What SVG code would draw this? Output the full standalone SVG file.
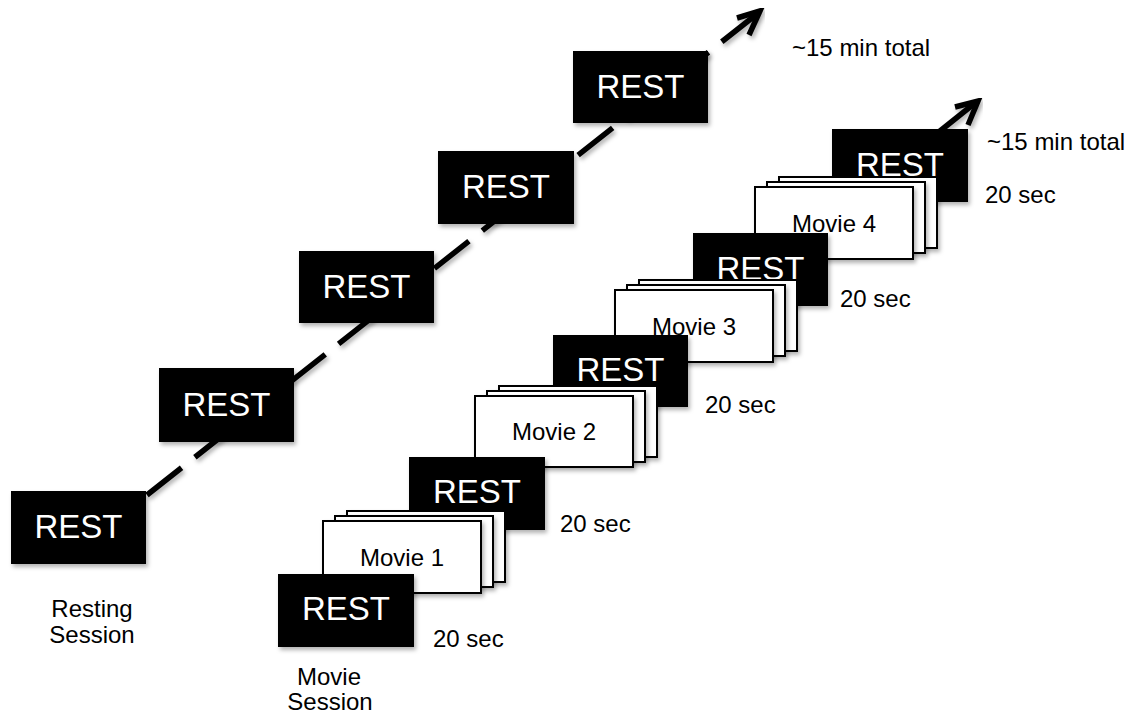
<svg xmlns="http://www.w3.org/2000/svg" width="1133" height="717" viewBox="0 0 1133 717">
<style>
text{font-family:"Liberation Sans",Arial,Helvetica,sans-serif}
.rest{fill:#000;filter:url(#sh)}
.rt{fill:#fff;font-size:33px;text-anchor:middle}
.card{fill:#fff;stroke:#000;stroke-width:2;filter:url(#sh)}
.mt{fill:#000;font-size:24px;text-anchor:middle}
.lbl{fill:#000;font-size:24px}
.lblc{fill:#000;font-size:24px;text-anchor:middle}
.conn{fill:none;stroke:#000;stroke-width:5.5;filter:url(#sh)}
</style>
<defs>
<filter id="sh" x="-10%" y="-10%" width="130%" height="140%">
<feDropShadow dx="2" dy="3" stdDeviation="2" flood-color="#000" flood-opacity="0.3"/>
</filter>
</defs>
<rect width="1133" height="717" fill="#fff"/>
<g id="connectors">
<line class="conn" x1="147" y1="495" x2="757" y2="14" stroke-dasharray="44 17"/>
<polyline class="conn" points="737,18 760,11 749,35" stroke-linejoin="miter"/>
<line class="conn" x1="930" y1="139" x2="975" y2="103"/>
<polyline class="conn" points="955,107 978,101 968,125" stroke-linejoin="miter"/>
</g>
<g id="resting-session">
<g id="rs-rest1"><rect class="rest" x="11" y="491" width="135" height="73"/><text class="rt" x="78.5" y="538">REST</text></g>
<g id="rs-rest2"><rect class="rest" x="159" y="368" width="135" height="74"/><text class="rt" x="226.5" y="415.5">REST</text></g>
<g id="rs-rest3"><rect class="rest" x="299" y="251" width="135" height="72"/><text class="rt" x="366.5" y="297.5">REST</text></g>
<g id="rs-rest4"><rect class="rest" x="438" y="151" width="136" height="73"/><text class="rt" x="506" y="198">REST</text></g>
<g id="rs-rest5"><rect class="rest" x="573" y="51" width="135" height="72"/><text class="rt" x="640.5" y="97.5">REST</text></g>
</g>
<g id="movie-session">
<g id="ms-rest5"><rect class="rest" x="832" y="129" width="136" height="73"/><text class="rt" x="900" y="176">REST</text></g>
<g id="movie4">
<rect class="card" x="779" y="177" width="158" height="71"/>
<rect class="card" x="767" y="182" width="158" height="71"/>
<rect class="card" x="755" y="187" width="158" height="72"/>
<text class="mt" x="834" y="232">Movie 4</text>
</g>
<g id="ms-rest4"><rect class="rest" x="693" y="233" width="135" height="73"/><text class="rt" x="760.5" y="279.5">REST</text></g>
<g id="movie3">
<rect class="card" x="639" y="280" width="158" height="71"/>
<rect class="card" x="627" y="285" width="158" height="71"/>
<rect class="card" x="615" y="290" width="158" height="72"/>
<text class="mt" x="694" y="335">Movie 3</text>
</g>
<g id="ms-rest3"><rect class="rest" x="553" y="335" width="135" height="72"/><text class="rt" x="620.5" y="381">REST</text></g>
<g id="movie2">
<rect class="card" x="499" y="386" width="158" height="71"/>
<rect class="card" x="487" y="391" width="158" height="71"/>
<rect class="card" x="475" y="396" width="158" height="71"/>
<text class="mt" x="554" y="440">Movie 2</text>
</g>
<g id="ms-rest2"><rect class="rest" x="409" y="457" width="136" height="73"/><text class="rt" x="477" y="503">REST</text></g>
<g id="movie1">
<rect class="card" x="347" y="511" width="158" height="71"/>
<rect class="card" x="335" y="516" width="158" height="71"/>
<rect class="card" x="323" y="521" width="158" height="72"/>
<text class="mt" x="402" y="566">Movie 1</text>
</g>
<g id="ms-rest1"><rect class="rest" x="278" y="574" width="136" height="73"/><text class="rt" x="346" y="620">REST</text></g>
</g>
<g id="labels">
<text class="lbl" x="792" y="56">~15 min total</text>
<text class="lbl" x="987" y="150">~15 min total</text>
<text class="lbl" x="985" y="203">20 sec</text>
<text class="lbl" x="840" y="307">20 sec</text>
<text class="lbl" x="705" y="413">20 sec</text>
<text class="lbl" x="560" y="532">20 sec</text>
<text class="lbl" x="433" y="647">20 sec</text>
<text class="lblc" x="92" y="617">Resting</text>
<text class="lblc" x="92" y="643">Session</text>
<text class="lblc" x="329" y="685">Movie</text>
<text class="lblc" x="330" y="710">Session</text>
</g>
</svg>
